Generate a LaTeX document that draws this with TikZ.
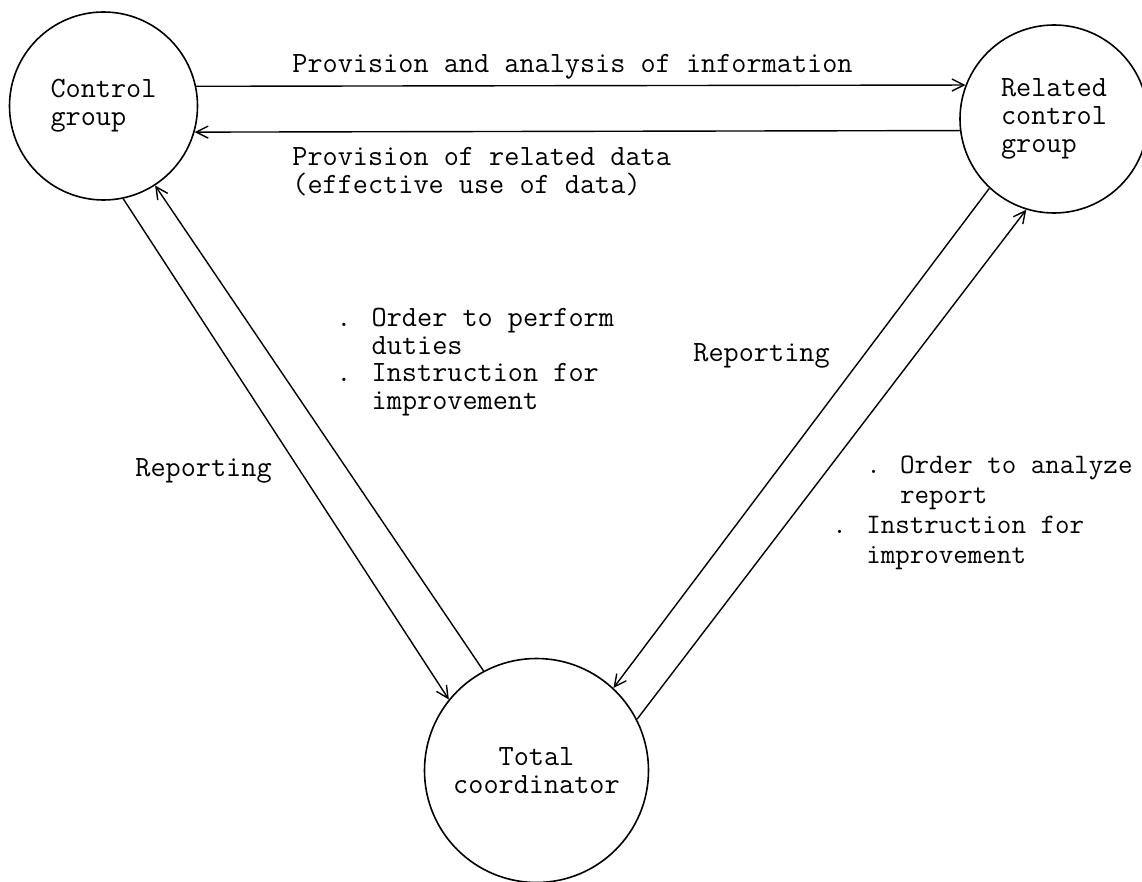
\documentclass[tikz,border=0pt]{standalone}
\usepackage{tikz}
\usetikzlibrary{shapes.geometric, arrows}
\usetikzlibrary{positioning, arrows.meta}
\tikzstyle{unit} = [circle, draw=black, line width=0.8pt, align=left, 
inner sep=0pt]
\tikzstyle{remark} = [anchor=base west, align=left, inner sep=0pt]
\tikzstyle{arrow} = [line width=0.7pt,-{Straight Barb[length=6pt,width=6pt]}]

\begin{document}
\begin{tikzpicture}[x=0.5pt, y=-0.5pt, every 
node/.style={font=\ttfamily\fontsize{14.7}{14}\selectfont}]
\useasboundingbox (0,0) rectangle (1142,882);
\node[unit, minimum size=94pt] (control) at (103.5,106) {Control\\group};
\node[unit, minimum size=94pt] (related) at (1054,119) {Related\\control\\group};
\node[unit, minimum size=112pt, align=center] (total) at (536.5,770.5) 
{Total\\coordinator};
\draw[arrow] (control.12.3) -- (related.159.4);
\draw[arrow] (related.187.3) -- (control.344.6);
\draw[arrow] (control.282.9) -- (total.141.5);
\draw[arrow] (total.118.5) -- (control.303.9);
\draw[arrow] (related.227.1) -- (total.47.2);
\draw[arrow] (total.27.8) -- (related.253.5);
\node[remark] (info) at (292,73) {Provision and analysis of information};
\node[remark] (data) at (292,194) {Provision of related data\\(effective use of data)};
\node[remark] (perform) at (336,410) 
{. Order to perform\\\hphantom{. }duties\\. Instruction for\\\hphantom{. }improvement};
\node[remark] (report1) at (135,477) {Reporting};
\node[remark] (report2) at (693,362) {Reporting};
\node[remark, font=\ttfamily\fontsize{14.1}{15}\selectfont] (analyze) at (832,563) 
{\hphantom{. }. Order to analyze\\\hphantom{. . }report\\. Instruction for\\\hphantom{. }improvement};
\end{tikzpicture}
\end{document}
